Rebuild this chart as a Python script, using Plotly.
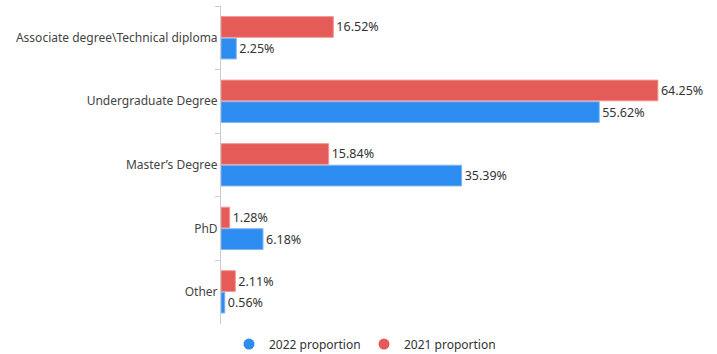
import plotly.graph_objects as go

categories = ["Associate degree\\Technical diploma", "Undergraduate Degree",
              "Master\u2019s Degree", "PhD", "Other"]
values_2022 = [2.25, 55.62, 35.39, 6.18, 0.56]
values_2021 = [16.52, 64.25, 15.84, 1.28, 2.11]
series_names = ["2022 proportion", "2021 proportion"]

blue = "#2D8CF0"
red = "#E55B57"
font_family = "Noto Sans, Open Sans, sans-serif"

fig = go.Figure()
for vals, name, col, edge in [(values_2022, series_names[0], blue, "#7FB6F5"),
                              (values_2021, series_names[1], red, "#F09996")]:
    fig.add_trace(go.Bar(
        y=categories, x=vals, orientation="h", name=name, showlegend=False,
        marker=dict(color=col, line=dict(color=edge, width=1)),
        text=[f"{v:.2f}%" for v in vals], textposition="outside",
        textfont=dict(size=12.5, color="#333"), cliponaxis=False,
    ))
for name, col, lg in [(series_names[0], blue, "legend"), (series_names[1], red, "legend2")]:
    fig.add_trace(go.Scatter(
        x=[None], y=[None], mode="markers", name=name, legend=lg,
        marker=dict(color=col, size=11, symbol="circle"), showlegend=True,
    ))

leg_common = dict(orientation="h", xref="container", yref="container",
                  xanchor="left", y=0.028, yanchor="middle",
                  bgcolor="rgba(0,0,0,0)",
                  font=dict(size=12, color="#333"), itemwidth=30)
fig.update_layout(
    width=717, height=354,
    margin=dict(l=221, r=20, t=6, b=26),
    barmode="group", bargap=0.32, bargroupgap=0.04,
    plot_bgcolor="white", paper_bgcolor="white",
    font=dict(family=font_family, size=12, color="#444"),
    showlegend=True,
    legend=dict(x=229 / 717, **leg_common),
    legend2=dict(x=364 / 717, **leg_common),
)
fig.update_xaxes(range=[0, 70], visible=False, showgrid=False, zeroline=False)
fig.update_yaxes(categoryorder="array", categoryarray=categories[::-1],
                 showline=True, linecolor="#ccc", linewidth=1,
                 ticks="outside", tickson="boundaries", ticklen=5, tickcolor="#ccc",
                 tickfont=dict(size=12, color="#444"), showgrid=False)

fig.write_html("out.html")
